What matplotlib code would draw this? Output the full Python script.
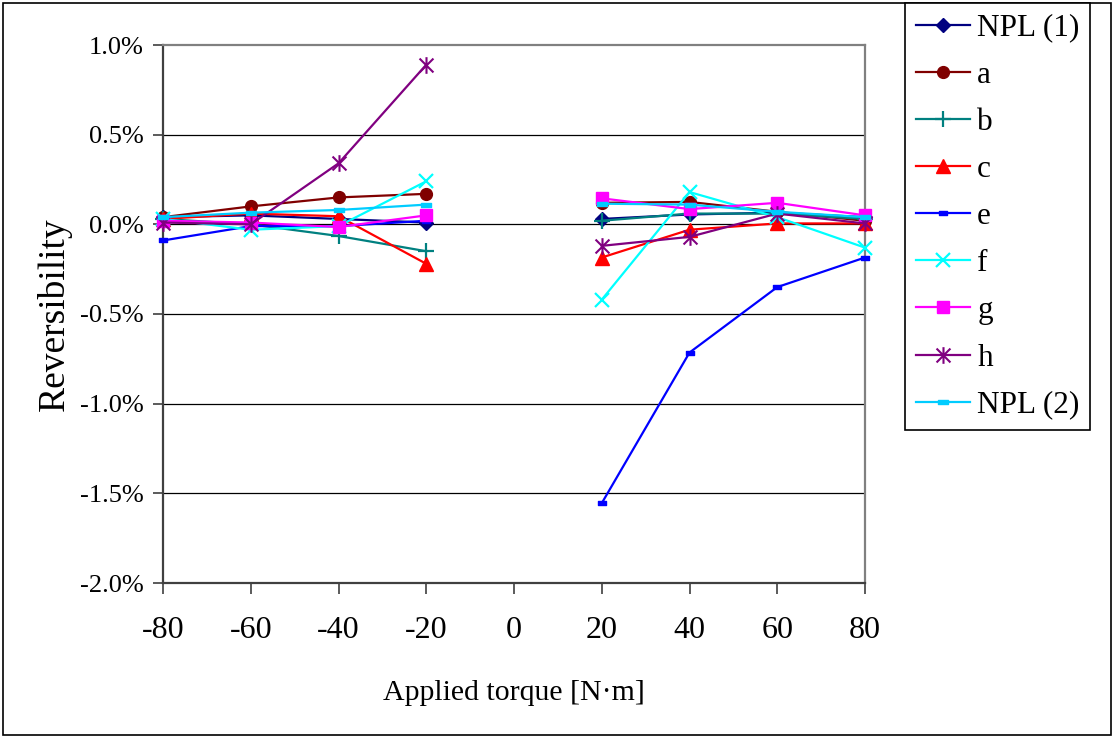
import numpy as np
import matplotlib
matplotlib.use("Agg")
import matplotlib.pyplot as plt
from matplotlib.path import Path
from matplotlib.patches import Rectangle

# ---------------- data (values in %) ----------------
torque = [-80, -60, -40, -20, 0, 20, 40, 60, 80]
x_tick_labels = ["-80", "-60", "-40", "-20", "0", "20", "40", "60", "80"]
y_ticks = [1.0, 0.5, 0.0, -0.5, -1.0, -1.5, -2.0]
y_tick_labels = ["1.0%", "0.5%", "0.0%", "-0.5%", "-1.0%", "-1.5%", "-2.0%"]

nan = np.nan
npl1 = [0.04, 0.05, 0.03, 0.01, nan, 0.03, 0.055, 0.065, 0.04]
ser_a = [0.04, 0.10, 0.15, 0.17, nan, 0.12, 0.125, 0.07, 0.02]
ser_b = [0.03, 0.00, -0.065, -0.15, nan, 0.02, 0.06, 0.06, 0.03]
ser_c = [0.03, 0.06, 0.045, -0.22, nan, -0.185, -0.03, 0.005, 0.005]
ser_e = [-0.09, -0.01, -0.01, 0.02, nan, -1.555, -0.715, -0.35, -0.185]
ser_f = [0.03, -0.03, -0.01, 0.24, nan, -0.42, 0.18, 0.04, -0.13]
ser_g = [0.02, 0.01, -0.015, 0.05, nan, 0.145, 0.085, 0.12, 0.05]
ser_h = [0.01, 0.00, 0.34, 0.89, nan, -0.12, -0.07, 0.06, 0.005]
npl2 = [0.04, 0.065, 0.08, 0.11, nan, 0.115, 0.11, 0.07, 0.04]

series_names = ["NPL (1)", "a", "b", "c", "e", "f", "g", "h", "NPL (2)"]
series_values = [npl1, ser_a, ser_b, ser_c, ser_e, ser_f, ser_g, ser_h, npl2]

# ---------------- styles ----------------
dash_marker = Path([(-1, -0.4), (1, -0.4), (1, 0.4), (-1, 0.4), (-1, -0.4)],
                   [Path.MOVETO, Path.LINETO, Path.LINETO, Path.LINETO, Path.CLOSEPOLY])
star_marker = Path([(-1, -1), (1, 1), (-1, 1), (1, -1), (0, -1.2), (0, 1.2)],
                   [Path.MOVETO, Path.LINETO, Path.MOVETO, Path.LINETO, Path.MOVETO, Path.LINETO])

styles = [
    dict(color="#000080", marker="D", ms=7.5),
    dict(color="#800000", marker="o", ms=8.5),
    dict(color="#008080", marker="+", ms=11, mew=1.6),
    dict(color="#FF0000", marker="^", ms=9.5),
    dict(color="#0000FF", marker=dash_marker, ms=6),
    dict(color="#00FFFF", marker="x", ms=10, mew=1.6),
    dict(color="#FF00FF", marker="s", ms=8),
    dict(color="#800080", marker=star_marker, ms=12, mew=1.5),
    dict(color="#00CCFF", marker=dash_marker, ms=7),
]

plt.rcParams["font.family"] = ["Liberation Serif", "DejaVu Serif"]

W, H = 1113, 736
fig = plt.figure(figsize=(W / 100, H / 100), dpi=100)
ax = fig.add_axes([163 / W, 1 - 583 / H, (865 - 163) / W, (583 - 45) / H])

handles = []
for name, vals, st in zip(series_names, series_values, styles):
    st = dict(st)
    c = st.pop("color")
    m = st.pop("marker")
    ms = st.pop("ms")
    mew = st.pop("mew", 1.0)
    ln, = ax.plot(torque, vals, color=c, lw=1.6, marker=m, markersize=ms,
                  markerfacecolor=c, markeredgecolor=c, markeredgewidth=mew,
                  label=name, clip_on=False, zorder=3)
    handles.append(ln)

ax.set_xlim(-80, 80)
ax.set_ylim(-2.0, 1.0)
ax.set_xticks(torque)
ax.set_xticklabels(x_tick_labels, fontsize=23)
ax.set_yticks(y_ticks)
ax.set_yticklabels(y_tick_labels, fontsize=19)

for yv in y_ticks[1:-1]:
    ax.axhline(yv, color="black", lw=0.9, zorder=1)

for s in ["left", "bottom"]:
    ax.spines[s].set_color("#404040")
    ax.spines[s].set_linewidth(1.6)
for s in ["top", "right"]:
    ax.spines[s].set_color("#808080")
    ax.spines[s].set_linewidth(1.6)

ax.tick_params(axis="x", direction="out", length=8, width=1.2, color="#404040", pad=16)
ax.tick_params(axis="y", direction="out", length=7, width=1.2, color="#404040", pad=7)

ax.set_xlabel("Applied torque [N·m]", fontsize=21.5, labelpad=25)
ax.set_ylabel("Reversibility", fontsize=27, labelpad=6)

leg = fig.legend(handles=handles, loc="upper left",
                 bbox_to_anchor=(905 / W, 1 - 3 / H), borderaxespad=0,
                 fontsize=22.5, frameon=True, fancybox=False, framealpha=1,
                 edgecolor="black", handlelength=1.75, handletextpad=0.22,
                 labelspacing=0.58, borderpad=0.34)
leg.get_frame().set_linewidth(1.2)

fig.patches.append(Rectangle((2.5 / W, 1.5 / H), (1111 - 2.5) / W, (733 - 1.5) / H,
                             transform=fig.transFigure, fill=False,
                             edgecolor="black", lw=1.2))

fig.savefig("out.png", dpi=100)
